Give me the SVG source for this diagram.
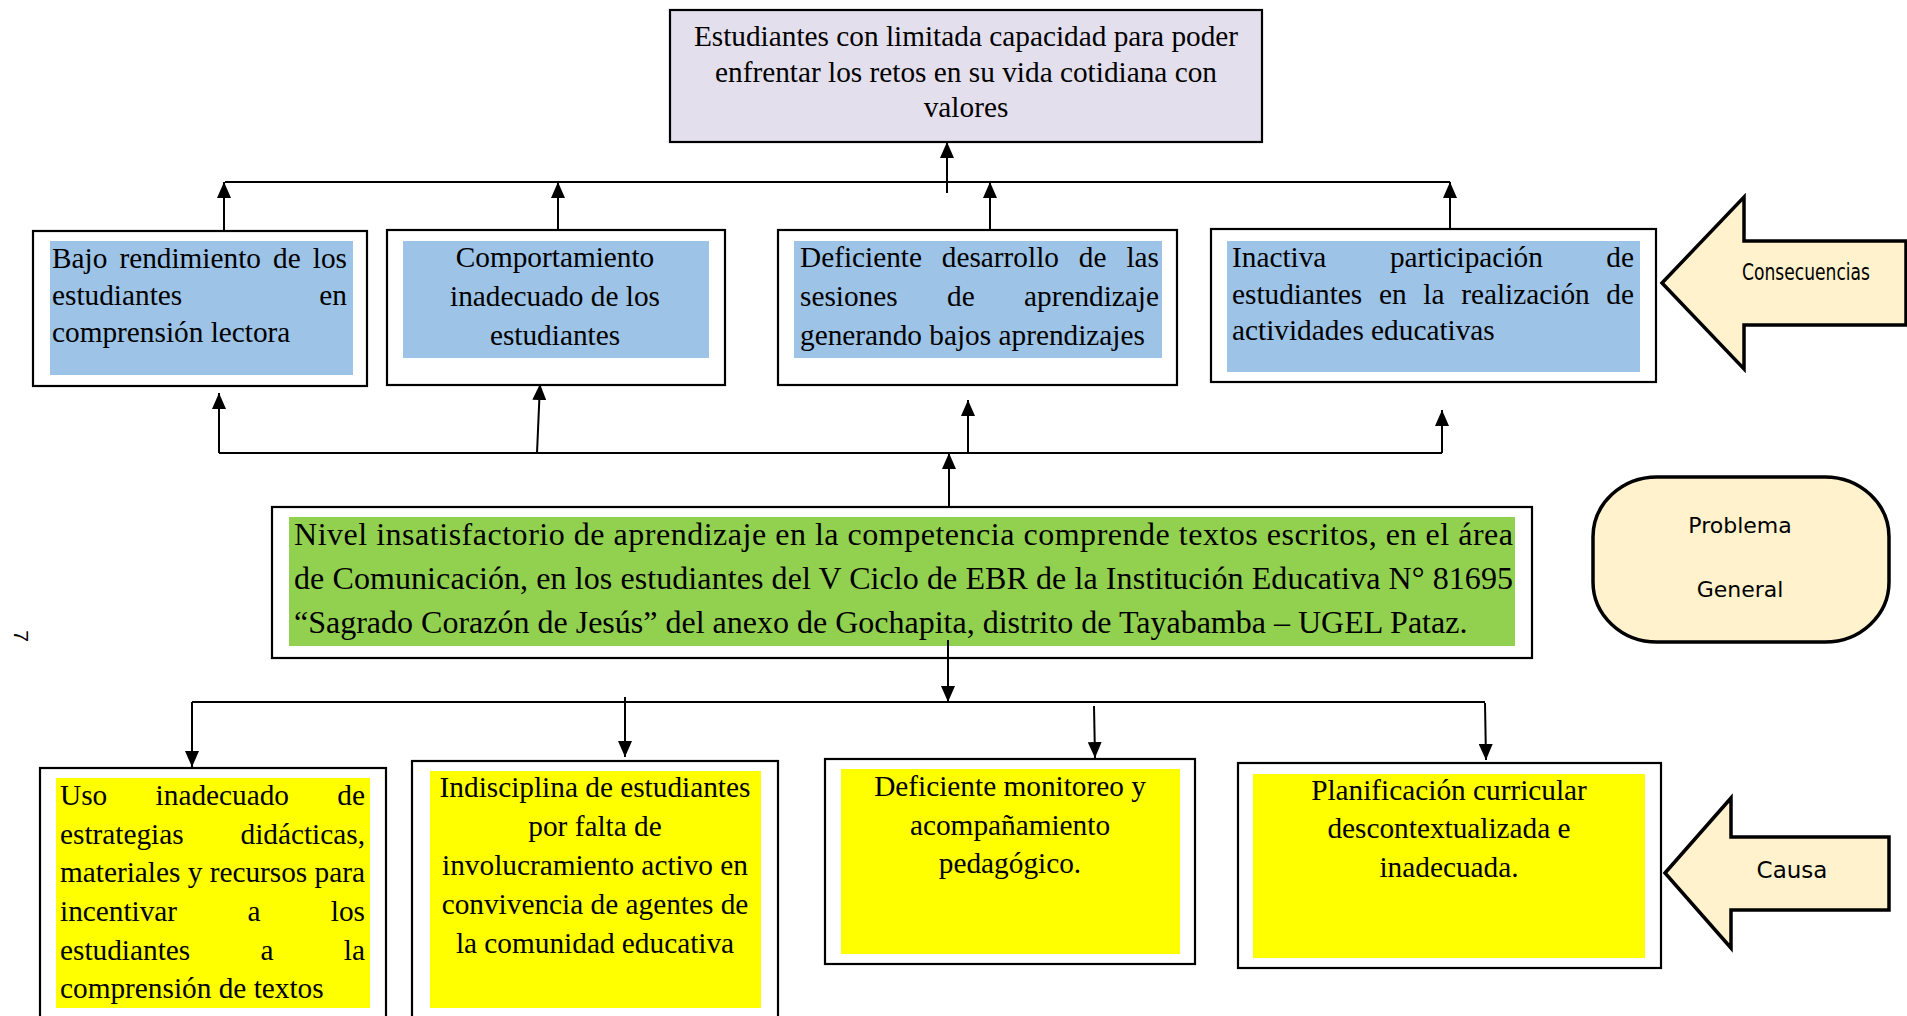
<svg xmlns="http://www.w3.org/2000/svg" width="1907" height="1016" viewBox="0 0 1907 1016">
<style>
.t{font-family:"Liberation Serif","Times New Roman",serif;font-size:29.3px;fill:#000}
.b{font-size:32px}
.c{text-anchor:middle}
.s{font-family:"DejaVu Sans","Liberation Sans",sans-serif;font-size:22px;fill:#000}
.box{fill:#fff;stroke:#000;stroke-width:2.2}
.blue{fill:#9DC3E6}
.yel{fill:#FFFF00}
.grn{fill:#92D050}
.cn{fill:none;stroke:#000;stroke-width:2}
.big{fill:#FFF2CC;stroke:#000;stroke-width:3.5;stroke-linejoin:miter}
</style>
<defs>
<marker id="ah" markerWidth="16" markerHeight="14" refX="16" refY="7" orient="auto" markerUnits="userSpaceOnUse" viewBox="0 0 16 14"><path d="M0,0 L16,7 L0,14 z" fill="#000"/></marker>
</defs>
<rect width="1907" height="1016" fill="#fff"/>

<g id="efecto">
<rect x="670" y="10" width="592" height="132" fill="#E4DFEC" stroke="#000" stroke-width="2.2"/>
<text class="t c" x="966" y="46">Estudiantes con limitada capacidad para poder</text>
<text class="t c" x="966" y="82">enfrentar los retos en su vida cotidiana con</text>
<text class="t c" x="966" y="117">valores</text>
</g>

<g id="consecuencia1">
<rect class="box" x="33" y="231" width="334" height="155"/>
<rect class="blue" x="50" y="241" width="303" height="134"/>
<text class="t" y="268"><tspan x="52">Bajo</tspan><tspan x="119.4">rendimiento</tspan><tspan x="273.1">de</tspan><tspan x="347" text-anchor="end">los</tspan></text>
<text class="t" y="305"><tspan x="52">estudiantes</tspan><tspan x="347" text-anchor="end">en</tspan></text>
<text class="t" x="52" y="342">comprensión lectora</text>
</g>

<g id="consecuencia2">
<rect class="box" x="387" y="230" width="338" height="155"/>
<rect class="blue" x="403" y="241" width="306" height="117"/>
<text class="t c" x="555" y="267">Comportamiento</text>
<text class="t c" x="555" y="306">inadecuado de  los</text>
<text class="t c" x="555" y="345">estudiantes</text>
</g>

<g id="consecuencia3">
<rect class="box" x="778" y="230" width="399" height="155"/>
<rect class="blue" x="794" y="241" width="368" height="117"/>
<text class="t" y="267"><tspan x="800">Deficiente</tspan><tspan x="941.8">desarrollo</tspan><tspan x="1078.8">de</tspan><tspan x="1159" text-anchor="end">las</tspan></text>
<text class="t" y="306"><tspan x="800">sesiones</tspan><tspan x="947">de</tspan><tspan x="1159" text-anchor="end">aprendizaje</tspan></text>
<text class="t" x="800" y="345">generando bajos aprendizajes</text>
</g>

<g id="consecuencia4">
<rect class="box" x="1211" y="229" width="445" height="153"/>
<rect class="blue" x="1227" y="241" width="413" height="131"/>
<text class="t" y="267"><tspan x="1232">Inactiva</tspan><tspan x="1389.9">participación</tspan><tspan x="1634" text-anchor="end">de</tspan></text>
<text class="t" y="304"><tspan x="1232">estudiantes</tspan><tspan x="1378.9">en</tspan><tspan x="1423.3">la</tspan><tspan x="1461.2">realización</tspan><tspan x="1634" text-anchor="end">de</tspan></text>
<text class="t" x="1232" y="340">actividades educativas</text>
</g>

<g id="consecuencias-flecha">
<polygon class="big" points="1662,283 1744,197 1744,241 1906,241 1906,325 1744,325 1744,369"/>
<text class="s" transform="translate(1806,280) scale(0.745,1)" x="0" y="0" text-anchor="middle" style="font-size:23px">Consecuencias</text>
</g>

<g id="problema-central">
<rect class="box" x="272" y="507" width="1260" height="151"/>
<rect class="grn" x="289" y="517" width="1226" height="129"/>
<text class="t b" x="294" y="545" textLength="1219" lengthAdjust="spacing">Nivel insatisfactorio de aprendizaje en la competencia  comprende textos escritos, en el área</text>
<text class="t b" x="294" y="589" textLength="1219" lengthAdjust="spacing">de Comunicación, en los estudiantes del V Ciclo de EBR de la Institución Educativa N° 81695</text>
<text class="t b" x="294" y="633">“Sagrado Corazón de Jesús” del anexo de Gochapita, distrito de Tayabamba – UGEL Pataz.</text>
</g>

<g id="problema-general">
<rect x="1593" y="477" width="296" height="165" rx="64" ry="60" fill="#FFF2CC" stroke="#000" stroke-width="3.5"/>
<text class="s c" x="1740" y="533">Problema</text>
<text class="s c" x="1740" y="597">General</text>
</g>

<g id="causa1">
<rect class="box" x="40" y="768" width="346" height="260"/>
<rect class="yel" x="56" y="778" width="314" height="230"/>
<text class="t" y="805"><tspan x="60">Uso</tspan><tspan x="155.6">inadecuado</tspan><tspan x="365" text-anchor="end">de</tspan></text>
<text class="t" y="844"><tspan x="60">estrategias</tspan><tspan x="365" text-anchor="end">didácticas,</tspan></text>
<text class="t" x="60" y="882" textLength="305" lengthAdjust="spacing">materiales y recursos para</text>
<text class="t" y="921"><tspan x="60">incentivar</tspan><tspan x="247.5">a</tspan><tspan x="365" text-anchor="end">los</tspan></text>
<text class="t" y="960"><tspan x="60">estudiantes</tspan><tspan x="260.5">a</tspan><tspan x="365" text-anchor="end">la</tspan></text>
<text class="t" x="60" y="998">comprensión de textos</text>
</g>

<g id="causa2">
<rect class="box" x="412" y="761" width="366" height="270"/>
<rect class="yel" x="430" y="771" width="331" height="237"/>
<text class="t c" x="595" y="797">Indisciplina de estudiantes</text>
<text class="t c" x="595" y="836">por falta de</text>
<text class="t c" x="595" y="875">involucramiento activo en</text>
<text class="t c" x="595" y="914">convivencia de agentes de</text>
<text class="t c" x="595" y="953">la comunidad educativa</text>
</g>

<g id="causa3">
<rect class="box" x="825" y="759" width="370" height="205"/>
<rect class="yel" x="841" y="769" width="339" height="185"/>
<text class="t c" x="1010" y="796">Deficiente monitoreo  y</text>
<text class="t c" x="1010" y="835">acompañamiento</text>
<text class="t c" x="1010" y="873">pedagógico.</text>
</g>

<g id="causa4">
<rect class="box" x="1238" y="763" width="423" height="205"/>
<rect class="yel" x="1253" y="774" width="392" height="184"/>
<text class="t c" x="1449" y="800">Planificación curricular</text>
<text class="t c" x="1449" y="838">descontextualizada e</text>
<text class="t c" x="1449" y="877">inadecuada.</text>
</g>

<g id="causa-flecha">
<polygon class="big" points="1665,873 1731,798 1731,837 1889,837 1889,910 1731,910 1731,948"/>
<text class="s c" x="1792" y="878" style="font-size:23px">Causa</text>
</g>

<g id="numero-pagina">
<text transform="translate(21,636) rotate(90)" text-anchor="middle" dominant-baseline="central" style="font-family:'Liberation Sans',sans-serif;font-size:21px">7</text>
</g>

<g id="connectors">
<path class="cn" d="M225,182 H1450"/>
<path class="cn" d="M224,231 V182" marker-end="url(#ah)"/>
<path class="cn" d="M558,230 V182" marker-end="url(#ah)"/>
<path class="cn" d="M990,230 V182" marker-end="url(#ah)"/>
<path class="cn" d="M1450,230 V182" marker-end="url(#ah)"/>
<path class="cn" d="M947,193 V142" marker-end="url(#ah)"/>
<path class="cn" d="M219,453 H1442"/>
<path class="cn" d="M219,453 V393" marker-end="url(#ah)"/>
<path class="cn" d="M537,453 L540,384" marker-end="url(#ah)"/>
<path class="cn" d="M968,453 V400" marker-end="url(#ah)"/>
<path class="cn" d="M1442,453 V410" marker-end="url(#ah)"/>
<path class="cn" d="M949,507 V453" marker-end="url(#ah)"/>
<path class="cn" d="M948,640 V702" marker-end="url(#ah)"/>
<path class="cn" d="M192,702 H1485"/>
<path class="cn" d="M192,702 V767" marker-end="url(#ah)"/>
<path class="cn" d="M625,697 V757" marker-end="url(#ah)"/>
<path class="cn" d="M1094,706 L1095,758" marker-end="url(#ah)"/>
<path class="cn" d="M1485,703 L1486,760" marker-end="url(#ah)"/>
</g>
</svg>
